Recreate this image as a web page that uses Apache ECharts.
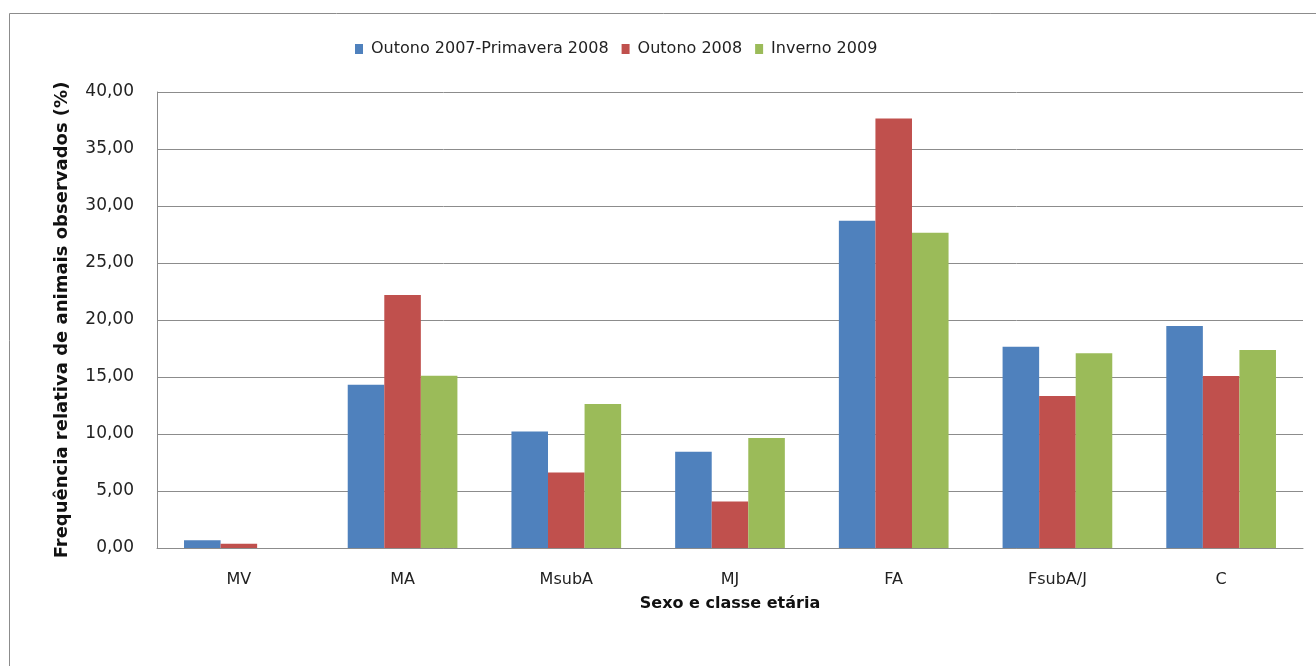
<!DOCTYPE html>
<html>
<head>
<meta charset="utf-8">
<script src="https://cdn.jsdelivr.net/npm/echarts@6/dist/echarts.min.js"></script>
<style>
  html, body { margin: 0; padding: 0; background: #fff; }
  #chart { width: 1316px; height: 666px; }
</style>
</head>
<body>
<div id="chart"></div>
<script>
// Sex and age classes
const categories = ['MV', 'MA', 'MsubA', 'MJ', 'FA', 'FsubA/J', 'C'];

// Relative frequency of observed animals (%) per period
const outono2007Primavera2008 = [0.67, 14.31, 10.21, 8.44, 28.70, 17.66, 19.47];
const outono2008 = [0.38, 22.19, 6.62, 4.08, 37.67, 13.34, 15.09];
const inverno2009 = [0.00, 15.12, 12.64, 9.64, 27.65, 17.08, 17.37];

const seriesNames = ['Outono 2007-Primavera 2008', 'Outono 2008', 'Inverno 2009'];
const yTicks = { min: 0, max: 40, interval: 5 };

const fontFamily = '"DejaVu Sans", "Open Sans", sans-serif';
const chart = echarts.init(document.getElementById('chart'));

const fmt = v => v.toFixed(2).replace('.', ',');

chart.setOption({
  animation: false,
  backgroundColor: '#ffffff',
  color: ['#4F81BD', '#C0504D', '#9BBB59'],
  graphic: [{
    type: 'rect',
    shape: { x: 9.5, y: 13.5, width: 1320, height: 660 },
    style: { fill: 'none', stroke: '#8c8c8c', lineWidth: 1 },
    silent: true
  }],
  legend: {
    top: 36,
    left: 350,
    itemWidth: 8,
    itemHeight: 10,
    itemGap: 13,
    icon: 'rect',
    textStyle: { fontFamily, fontSize: 16, color: '#222', padding: [0, 0, 0, 3] },
    data: seriesNames
  },
  grid: { left: 157, right: 13, top: 92, bottom: 118, containLabel: false },
  xAxis: {
    type: 'category',
    data: categories,
    name: 'Sexo e classe etária',
    nameLocation: 'middle',
    nameGap: 48,
    nameTextStyle: { fontFamily, fontSize: 16, fontWeight: 'bold', color: '#111' },
    axisLine: { show: true, lineStyle: { color: '#8c8c8c', width: 1 } },
    axisTick: { show: false },
    axisLabel: { fontFamily, fontSize: 16, color: '#222', margin: 24 }
  },
  yAxis: {
    type: 'value',
    min: yTicks.min,
    max: yTicks.max,
    interval: yTicks.interval,
    name: 'Frequência relativa de animais observados (%)',
    nameLocation: 'middle',
    nameGap: 86,
    nameTextStyle: { fontFamily, fontSize: 18, fontWeight: 'bold', color: '#111' },
    axisLine: { show: true, lineStyle: { color: '#8c8c8c', width: 1 } },
    axisTick: { show: false },
    splitLine: { show: true, lineStyle: { color: '#8c8c8c', width: 1 } },
    axisLabel: { fontFamily, fontSize: 17, color: '#222', margin: 23, formatter: fmt }
  },
  series: [
    { name: seriesNames[0], type: 'bar', data: outono2007Primavera2008, barGap: '0%', barCategoryGap: '33%' },
    { name: seriesNames[1], type: 'bar', data: outono2008, barGap: '0%', barCategoryGap: '33%' },
    { name: seriesNames[2], type: 'bar', data: inverno2009, barGap: '0%', barCategoryGap: '33%' }
  ]
});
</script>
</body>
</html>
